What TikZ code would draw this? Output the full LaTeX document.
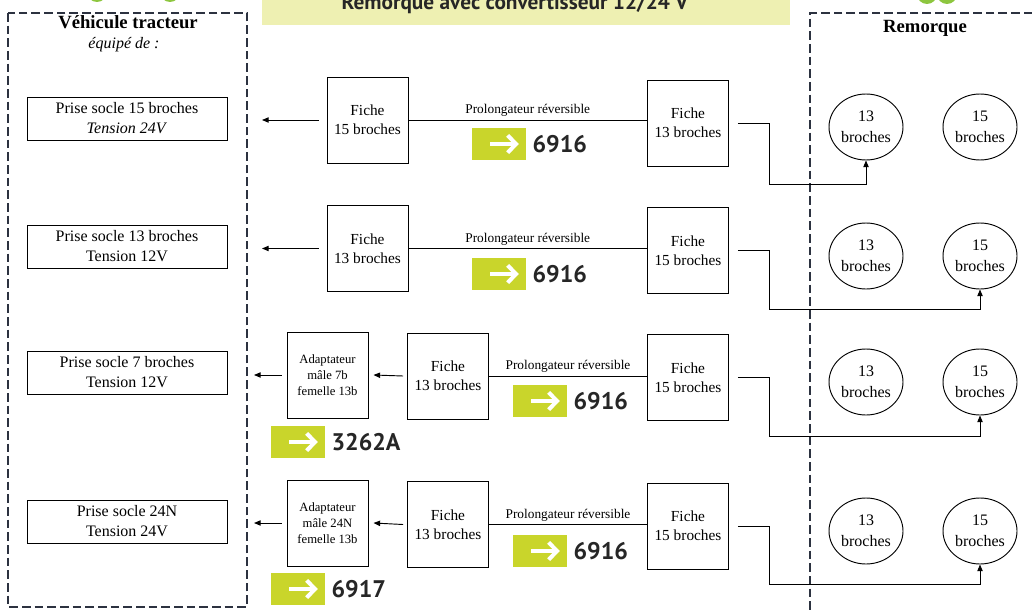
\documentclass[tikz,border=0pt]{standalone}
\usepackage{fontspec}
\setmainfont{Liberation Serif}
\newfontfamily\badgefont{PT Sans}
\usepackage{xcolor}
\usetikzlibrary{positioning,shapes.geometric,arrows.meta}
\definecolor{PanelDark}{HTML}{2C3240}
\definecolor{BadgeGreen}{HTML}{C9D52B}
\definecolor{BannerLight}{HTML}{EEF0B2}
\definecolor{DotGreen}{HTML}{8DC63F}

\tikzset{
  panel/.style={draw=PanelDark, line width=1.8pt, dash pattern=on 6.5pt off 3pt},
  prise/.style={draw, line width=0.7pt, minimum width=150pt, minimum height=32.25pt,
    inner sep=2pt, align=center, font=\fontsize{12}{15}\selectfont},
  fiche/.style={draw, line width=0.7pt, minimum width=60.75pt, minimum height=64.5pt,
    align=center, font=\fontsize{11.5}{14.25}\selectfont},
  adapt/.style={fiche, font=\fontsize{9.5}{12}\selectfont},
  socket/.style={ellipse, draw, line width=0.7pt, minimum width=55.5pt, minimum height=49.5pt,
    inner sep=0pt, align=center, font=\fontsize{12}{15.75}\selectfont},
  lien/.style={draw, line width=0.7pt},
  fleche/.style={lien, -{Triangle[length=5pt,width=4pt]}},
  badge/.style={fill=BadgeGreen, minimum width=40.5pt, minimum height=24pt, inner sep=0pt,
    path picture={
      \draw[white, line width=3pt] ([xshift=-6.75pt]path picture bounding box.center)
        -- ([xshift=11pt]path picture bounding box.center);
      \draw[white, line width=3pt] ([shift={(6.5pt,6.5pt)}]path picture bounding box.center)
        -- ([xshift=12.75pt]path picture bounding box.center)
        -- ([shift={(6.5pt,-6.5pt)}]path picture bounding box.center);
    }},
  refno/.style={font=\badgefont\bfseries\fontsize{18}{18}\selectfont, text=black!85, inner sep=0pt},
  legende/.style={midway, above, inner sep=2pt, font=\fontsize{10}{12}\selectfont}
}

\begin{document}
\begin{tikzpicture}[x=0.75pt, y=-0.75pt]
  \useasboundingbox (0,0) rectangle (1032,610);

  % title banner and dots, cut by the page edge
  \fill[BannerLight] (262,-10) rectangle (790,25);
  \node[font=\badgefont\bfseries\fontsize{16}{16}\selectfont, text=black!85, anchor=base]
    (titre) at (515,10) {Remorque avec convertisseur 12/24 V};
  \fill[DotGreen] (97,-8) circle (7.5pt) (170,-8) circle (7.5pt);
  \fill[DotGreen] (927,-6) circle (7.5pt) (947,-6) circle (7.5pt);

  % panels
  \draw[panel] (8,13) rectangle (247,607);
  \draw[panel] (1045,13) -| (810,625);
  \node[font=\bfseries\fontsize{14}{16}\selectfont] (vt) at (128,22) {Véhicule tracteur};
  \node[font=\itshape\fontsize{12}{14}\selectfont] (eq) at (124,45) {équipé de :};
  \node[font=\bfseries\fontsize{14}{16}\selectfont] (rm) at (925,28) {Remorque};

  \coordinate (bord1) at (262,0);
  \coordinate (bord2) at (254,0);

  % trailer sockets
  \foreach \r/\y in {1/127,2/256,3/382,4/531}{
    \node[socket] (c13-\r) at (866,\y) {13\\broches};
    \node[socket] (c15-\r) at (980,\y) {15\\broches};
  }

  % row 1
  \node[prise] (p1) at (127,118.5) {Prise socle 15 broches\\\textit{Tension 24V}};
  \node[fiche] (fa1) at (367.5,120) {Fiche\\15 broches};
  \node[fiche] (fb1) at (688,123) {Fiche\\13 broches};
  \draw[lien] (fa1.east) -- (fa1.east -| fb1.west) node[legende] {Prolongateur réversible};
  \draw[fleche] ([xshift=-6pt]fa1.west) -- (fa1.west -| bord1);
  \draw[fleche] ([xshift=6.75pt]fb1.east) -- ++(31,0) -- ++(0,61) -| (c13-1.south);
  \node[badge] (b1) at (499,144) {};
  \node[refno, right=4.5pt of b1] (n1) {6916};

  % row 2
  \node[prise] (p2) at (127,246.5) {Prise socle 13 broches\\Tension 12V};
  \node[fiche] (fa2) at (367.5,248.5) {Fiche\\13 broches};
  \node[fiche] (fb2) at (688,250.5) {Fiche\\15 broches};
  \draw[lien] (fa2.east) -- (fa2.east -| fb2.west) node[legende] {Prolongateur réversible};
  \draw[fleche] ([xshift=-6pt]fa2.west) -- (fa2.west -| bord1);
  \draw[fleche] ([xshift=6.75pt]fb2.east) -- ++(31,0) -- ++(0,58.5) -| (c15-2.south);
  \node[badge] (b2) at (499,274) {};
  \node[refno, right=4.5pt of b2] (n2) {6916};

  % row 3
  \node[prise] (p3) at (127,372.5) {Prise socle 7 broches\\Tension 12V};
  \node[adapt] (ad3) at (327.5,375) {Adaptateur\\mâle 7b\\femelle 13b};
  \node[fiche] (fa3) at (448,376) {Fiche\\13 broches};
  \node[fiche] (fb3) at (688,377.5) {Fiche\\15 broches};
  \draw[lien] (fa3.east) -- (fa3.east -| fb3.west) node[legende] {Prolongateur réversible};
  \draw[fleche] ([xshift=-3pt]fa3.west) -- ([xshift=3.75pt]ad3.east);
  \draw[fleche] ([xshift=-3.75pt]ad3.west) -- (ad3.west -| bord2);
  \draw[fleche] ([xshift=6.75pt]fb3.east) -- ++(31,0) -- ++(0,58.5) -| (c15-3.south);
  \node[badge] (b3) at (540,401) {};
  \node[refno, right=4.5pt of b3] (n3) {6916};
  \node[badge] (b5) at (298,442) {};
  \node[refno, right=4.5pt of b5] (n5) {3262A};

  % row 4
  \node[prise] (p4) at (127,521.5) {Prise socle 24N\\Tension 24V};
  \node[adapt] (ad4) at (327.5,523) {Adaptateur\\mâle 24N\\femelle 13b};
  \node[fiche] (fa4) at (448,524.5) {Fiche\\13 broches};
  \node[fiche] (fb4) at (688,526) {Fiche\\15 broches};
  \draw[lien] (fa4.east) -- (fa4.east -| fb4.west) node[legende] {Prolongateur réversible};
  \draw[fleche] ([xshift=-3pt]fa4.west) -- ([xshift=3.75pt]ad4.east);
  \draw[fleche] ([xshift=-3.75pt]ad4.west) -- (ad4.west -| bord2);
  \draw[fleche] ([xshift=6.75pt]fb4.east) -- ++(31,0) -- ++(0,58) -| (c15-4.south);
  \node[badge] (b4) at (540,551) {};
  \node[refno, right=4.5pt of b4] (n4) {6916};
  \node[badge] (b6) at (298,589) {};
  \node[refno, right=4.5pt of b6] (n6) {6917};
\end{tikzpicture}
\end{document}
